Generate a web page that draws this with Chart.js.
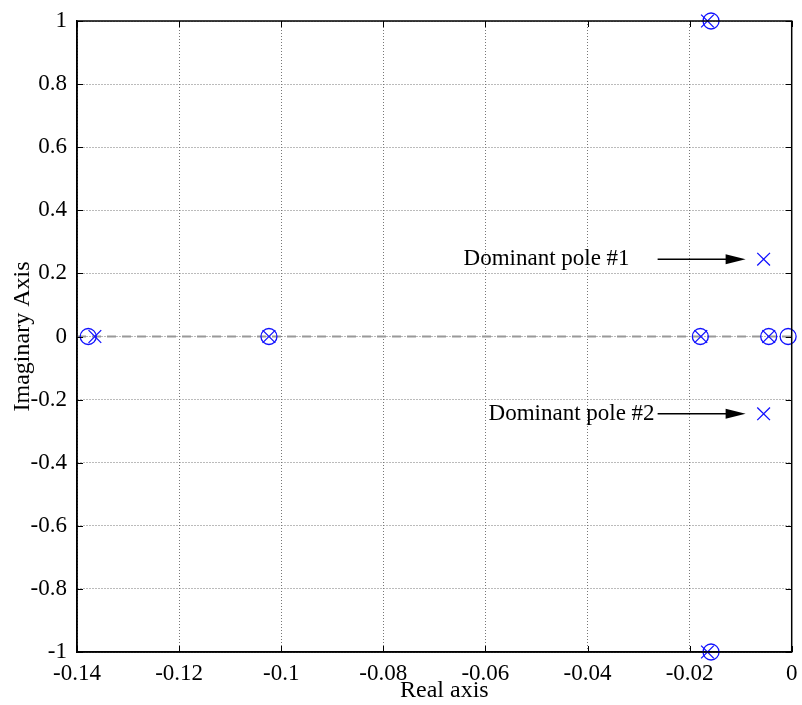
<!DOCTYPE html>
<html>
<head>
<meta charset="utf-8">
<script src="https://cdn.jsdelivr.net/npm/chart.js@4"></script>
<style>
  html, body { margin: 0; padding: 0; background: #fff; }
  #wrap { width: 802px; height: 705px; }
</style>
</head>
<body>
<div id="wrap"><canvas id="pzChart" width="802" height="705"></canvas></div>
<script>
// zeros (o) and poles (x)
const zerosX = [-0.1378, -0.1024, -0.0158, -0.0158, -0.0179, -0.0045, -0.0007];
const zerosY = [0, 0, 1, -1, 0, 0, 0];
const polesX = [-0.1365, -0.1024, -0.0165, -0.0165, -0.0178, -0.0045, -0.0055, -0.0055];
const polesY = [0, 0, 1, -1, 0, 0, 0.245, -0.245];

const xTicks = [-0.14, -0.12, -0.1, -0.08, -0.06, -0.04, -0.02, 0];
const yTicks = [-1, -0.8, -0.6, -0.4, -0.2, 0, 0.2, 0.4, 0.6, 0.8, 1];

const annotations = [
    { text: 'Dominant pole #1', pole: 6, gap: 28 },
    { text: 'Dominant pole #2', pole: 7, gap: 3 }
];

const FONT = '"Liberation Serif", "Times New Roman", serif';
const BLUE = '#1010ff';

// box, inward ticks, x title and the arrows with labels
const framePlugin = {
    id: 'frame',
    afterDraw(chart) {
        const { ctx, chartArea: a, scales } = chart;
        ctx.save();
        ctx.setLineDash([]);
        ctx.strokeStyle = '#000';
        ctx.lineWidth = 1;
        xTicks.forEach(v => {
            const px = Math.round(scales.x.getPixelForValue(v)) + 0.5;
            ctx.beginPath();
            ctx.moveTo(px, a.bottom); ctx.lineTo(px, a.bottom - 6);
            ctx.moveTo(px, a.top); ctx.lineTo(px, a.top + 6);
            ctx.stroke();
        });
        yTicks.forEach(v => {
            const py = Math.round(scales.y.getPixelForValue(v)) + 0.5;
            ctx.beginPath();
            ctx.moveTo(a.left, py); ctx.lineTo(a.left + 6, py);
            ctx.moveTo(a.right, py); ctx.lineTo(a.right - 6, py);
            ctx.stroke();
        });
        ctx.lineWidth = 1.5;
        ctx.strokeRect(a.left, a.top, a.right - a.left, a.bottom - a.top);

        ctx.fillStyle = '#000';
        ctx.font = '24px ' + FONT;
        ctx.textAlign = 'center';
        ctx.textBaseline = 'alphabetic';
        ctx.fillText('Real axis', (a.left + a.right) / 2 + 10, 697);

        ctx.font = '23px ' + FONT;
        ctx.textAlign = 'right';
        ctx.textBaseline = 'middle';
        annotations.forEach(an => {
            const px = scales.x.getPixelForValue(polesX[an.pole]);
            const py = scales.y.getPixelForValue(polesY[an.pole]);
            const tip = px - 18;
            const start = tip - 88;
            ctx.lineWidth = 1.5;
            ctx.beginPath();
            ctx.moveTo(start, py); ctx.lineTo(tip - 15, py);
            ctx.stroke();
            ctx.beginPath();
            ctx.moveTo(tip, py);
            ctx.lineTo(tip - 20, py - 5);
            ctx.lineTo(tip - 20, py + 5);
            ctx.closePath();
            ctx.fill();
            ctx.fillText(an.text, start - an.gap, py);
        });
        ctx.restore();
    }
};

const ctx = document.getElementById('pzChart').getContext('2d');
new Chart(ctx, {
    type: 'scatter',
    data: {
        datasets: [{
            label: 'real axis',
            data: [{ x: xTicks[0], y: 0 }, { x: xTicks[xTicks.length - 1], y: 0 }],
            showLine: true,
            borderColor: '#999',
            borderWidth: 2,
            borderDash: [9, 6],
            pointRadius: 0,
            order: 3
        }, {
            label: 'zeros',
            data: zerosX.map((x, i) => ({ x: x, y: zerosY[i] })),
            pointStyle: 'circle',
            pointRadius: 8,
            borderColor: BLUE,
            backgroundColor: 'rgba(0,0,0,0)',
            borderWidth: 1.3,
            clip: false,
            order: 1
        }, {
            label: 'poles',
            data: polesX.map((x, i) => ({ x: x, y: polesY[i] })),
            pointStyle: 'crossRot',
            pointRadius: 9,
            borderColor: BLUE,
            borderWidth: 1.3,
            clip: false,
            order: 2
        }]
    },
    options: {
        responsive: false,
        animation: false,
        layout: { padding: { left: 0, right: 7, top: 21, bottom: 0 } },
        plugins: {
            legend: { display: false },
            tooltip: { enabled: false }
        },
        scales: {
            x: {
                type: 'linear',
                min: -0.14,
                max: 0,
                afterBuildTicks: s => { s.ticks = xTicks.map(v => ({ value: v })); },
                afterFit: s => {
                    s.height = 53;
                    s.paddingLeft = 0;
                    s.paddingRight = 0;
                },
                ticks: {
                    color: '#000',
                    font: { family: FONT, size: 23 },
                    padding: 8,
                    maxRotation: 0,
                    callback: v => String(v)
                },
                grid: { color: '#777', lineWidth: 1, drawTicks: false },
                border: { display: true, color: '#000', width: 1.5, dash: [1, 2] }
            },
            y: {
                type: 'linear',
                min: -1,
                max: 1,
                afterBuildTicks: s => { s.ticks = yTicks.map(v => ({ value: v })); },
                afterFit: s => {
                    s.width = 77;
                    s.paddingTop = 0;
                    s.paddingBottom = 0;
                },
                ticks: {
                    color: '#000',
                    font: { family: FONT, size: 23 },
                    padding: 10,
                    callback: v => String(v)
                },
                grid: { color: '#777', lineWidth: 1, drawTicks: false },
                border: { display: true, color: '#000', width: 1.5, dash: [1, 2] },
                title: {
                    display: true,
                    text: 'Imaginary Axis',
                    color: '#000',
                    font: { family: FONT, size: 24 },
                    padding: { top: 8, bottom: 0 }
                }
            }
        }
    },
    plugins: [framePlugin]
});
</script>
</body>
</html>
